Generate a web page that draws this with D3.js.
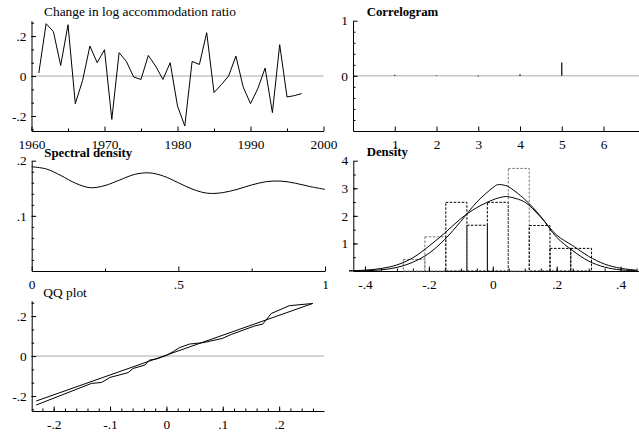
<!DOCTYPE html>
<html><head><meta charset="utf-8">
<script src="https://cdn.jsdelivr.net/npm/d3@7"></script>
<style>
body{margin:0;background:#fff}
svg text{font-family:'Liberation Serif','Times New Roman',Times,'DejaVu Serif','Noto Serif',serif;fill:#000}
</style>
</head><body>
<svg id="c" width="639" height="432" font-family="'Liberation Serif','Times New Roman',Times,'DejaVu Serif',serif"></svg>
<script>
// ---- Data ----
const years = [1961,1962,1963,1964,1965,1966,1967,1968,1969,1970,1971,1972,1973,1974,1975,1976,1977,1978,1979,1980,1981,1982,1983,1984,1985,1986,1987,1988,1989,1990,1991,1992,1993,1994,1995,1996,1997];
const ratioChange = [0.015,0.262,0.223,0.053,0.257,-0.138,-0.022,0.150,0.067,0.132,-0.217,0.117,0.073,-0.005,-0.017,0.103,0.050,-0.017,0.067,-0.150,-0.250,0.073,0.058,0.217,-0.083,-0.043,0.000,0.100,-0.055,-0.138,-0.063,0.040,-0.183,0.157,-0.105,-0.098,-0.088];
const yearTicks = [1960,1970,1980,1990,2000];
const yearTickLabels = ["1960","1970","1980","1990","2000"];
const seriesYTicks = [-0.2,0,0.2];
const seriesYTickLabels = ["-.2","0",".2"];

const corrLags = [1,2,3,4,5,6];
const corrValues = [0.02,0.01,-0.01,0.03,0.24,0.0];
const corrXTicks = [1,2,3,4,5,6];
const corrXTickLabels = ["1","2","3","4","5","6"];
const corrYTicks = [0,1];
const corrYTickLabels = ["0","1"];

const spectFreq = [0,0.05,0.1,0.15,0.2,0.25,0.3,0.35,0.4,0.45,0.5,0.55,0.6,0.65,0.7,0.75,0.8,0.85,0.9,0.95,1];
const spectValues = [0.189,0.185,0.173,0.159,0.151,0.155,0.165,0.175,0.178,0.172,0.160,0.148,0.141,0.142,0.148,0.156,0.162,0.163,0.159,0.153,0.148];
const spectXTicks = [0,0.5,1];
const spectXTickLabels = ["0",".5","1"];
const spectYTicks = [0.1,0.2];
const spectYTickLabels = [".1",".2"];

const histLeft  = [-0.280,-0.2125,-0.147,-0.081,-0.017,0.0485,0.114,0.179,0.244];
const histRight = [-0.2125,-0.147,-0.081,-0.017,0.0485,0.114,0.179,0.244,0.309];
const histHeights = [0.42,1.24,2.49,1.66,2.49,3.72,1.65,0.82,0.82];
const densX = [-0.45,-0.4,-0.35,-0.3,-0.25,-0.2,-0.15,-0.1,-0.05,0,0.015,0.04,0.05,0.1,0.15,0.2,0.25,0.3,0.35,0.4,0.45];
const densKernel = [0.0,0.01,0.04,0.13,0.32,0.64,1.15,1.80,2.50,3.02,3.13,3.10,3.05,2.60,1.98,1.22,0.74,0.36,0.14,0.04,0.01];
const densNormal = [0.01,0.03,0.09,0.22,0.48,0.90,1.38,1.90,2.30,2.58,2.64,2.70,2.69,2.50,1.95,1.30,0.92,0.53,0.25,0.10,0.03];
const densXTicks = [-0.4,-0.2,0,0.2,0.4];
const densXTickLabels = ["-.4","-.2","0",".2",".4"];
const densYTicks = [1,2,3,4];
const densYTickLabels = ["1","2","3","4"];

const qqX = [-0.231,-0.133,-0.115,-0.100,-0.068,-0.059,-0.038,-0.030,-0.018,0.000,0.012,0.023,0.041,0.065,0.099,0.115,0.156,0.171,0.186,0.218,0.2595];
const qqY = [-0.245,-0.137,-0.132,-0.107,-0.083,-0.062,-0.045,-0.020,-0.015,0.003,0.022,0.042,0.060,0.067,0.088,0.108,0.150,0.160,0.213,0.252,0.263];
const qqLineX = [-0.231,0.2595];
const qqLineY = [-0.225,0.263];
const qqXTicks = [-0.2,-0.1,0,0.1,0.2];
const qqXTickLabels = ["-.2","-.1","0",".1",".2"];

// ---- Drawing ----
const svg = d3.select("#c");
const FONT = "'Liberation Serif','Times New Roman',Times,'DejaVu Serif',serif";
const FS = "13.4px";
const TFS = "12.8px";

function axes(x, y, o) {
  const g = svg.append("g");
  const y0 = y.range()[0];
  const x0 = x.range()[0];
  if (o.yMinor) {
    g.append("g").attr("transform", `translate(${x0},0)`)
      .call(d3.axisLeft(y).tickValues(o.yMinor).tickSize(-2.5).tickSizeOuter(0).tickFormat(""))
      .call(s => s.select(".domain").remove());
  }
  if (o.xMinor) {
    g.append("g").attr("transform", `translate(0,${y0})`)
      .call(d3.axisBottom(x).tickValues(o.xMinor).tickSize(-2.5).tickSizeOuter(0).tickFormat(""))
      .call(s => s.select(".domain").remove());
  }
  g.append("g").attr("transform", `translate(${x0},0)`)
    .call(d3.axisLeft(y).tickValues(o.yTicks).tickSize(-4.5).tickSizeOuter(0).tickPadding(5)
      .tickFormat((d, i) => o.yLabels[i]));
  g.append("g").attr("transform", `translate(0,${y0})`)
    .call(d3.axisBottom(x).tickValues(o.xTicks).tickSize(-4.5).tickSizeOuter(0).tickPadding(8)
      .tickFormat((d, i) => o.xLabels[i]));
  g.selectAll("g").attr("font-family", FONT).attr("font-size", FS);
  g.selectAll("text").style("font-family", FONT).style("font-size", FS).attr("fill", "#000");
  g.selectAll(".domain, .tick line").attr("stroke", "#000").attr("stroke-width", 1);
  return g;
}
function title(txt, x, y, bold) {
  svg.append("text").attr("x", x).attr("y", y).text(txt)
    .style("font-family", FONT)
    .style("font-size", bold ? TFS : FS).style("font-weight", bold ? "bold" : "normal");
}
function zeroLine(x, y) {
  svg.append("line").attr("x1", x.range()[0]).attr("x2", x.range()[1])
    .attr("y1", y(0)).attr("y2", y(0)).attr("stroke", "#a8a8a8").attr("stroke-width", 1);
}
function minorRange(a, b, step) {
  const out = []; for (let v = a; v <= b + 1e-9; v += step) out.push(+v.toFixed(6)); return out;
}

// Panel 1: time series
{
  const x = d3.scaleLinear().domain([1960, 2000]).range([31.5, 323.5]);
  const y = d3.scaleLinear().domain([-0.275, 0.277]).range([131, 20.7]);
  zeroLine(x, y);
  axes(x, y, {xTicks: yearTicks, xLabels: yearTickLabels, yTicks: seriesYTicks, yLabels: seriesYTickLabels,
    xMinor: minorRange(1965, 1995, 10), yMinor: minorRange(-0.2667, 0.27, 0.2/3)});
  svg.append("path").datum(years.map((d, i) => [d, ratioChange[i]]))
    .attr("fill", "none").attr("stroke", "#000").attr("stroke-width", 1)
    .attr("d", d3.line().x(d => x(d[0])).y(d => y(d[1])));
  title("Change in log accommodation ratio", 44, 15.5, false);
}
// Panel 2: correlogram
{
  const x = d3.scaleLinear().domain([0, 6.85]).range([353, 639]);
  const y = d3.scaleLinear().domain([-1, 1]).range([131, 20.7]);
  zeroLine(x, y);
  axes(x, y, {xTicks: corrXTicks, xLabels: corrXTickLabels, yTicks: corrYTicks, yLabels: corrYTickLabels,
    yMinor: minorRange(-0.8, 0.8, 0.2)});
  svg.append("g").selectAll("line").data(corrLags).join("line")
    .attr("x1", d => x(d)).attr("x2", d => x(d))
    .attr("y1", y(0)).attr("y2", (d, i) => y(corrValues[i]))
    .attr("stroke", "#000").attr("stroke-width", 1.2);
  title("Correlogram", 366.7, 15.5, true);
}
// Panel 3: spectral density
{
  const x = d3.scaleLinear().domain([0, 1]).range([31.7, 325]);
  const y = d3.scaleLinear().domain([0, 0.2]).range([271, 160.7]);
  axes(x, y, {xTicks: spectXTicks, xLabels: spectXTickLabels, yTicks: spectYTicks, yLabels: spectYTickLabels,
    xMinor: [0.25, 0.75], yMinor: minorRange(0.02, 0.18, 0.02)});
  svg.append("path").datum(spectFreq.map((d, i) => [d, spectValues[i]]))
    .attr("fill", "none").attr("stroke", "#000").attr("stroke-width", 1)
    .attr("d", d3.line().curve(d3.curveCatmullRom).x(d => x(d[0])).y(d => y(d[1])));
  title("Spectral density", 44.3, 156.5, true);
}
// Panel 4: density
{
  const x = d3.scaleLinear().domain([-0.4365, 0.4575]).range([353.3, 639]);
  const y = d3.scaleLinear().domain([0, 4]).range([271, 160.7]);
  axes(x, y, {xTicks: densXTicks, xLabels: densXTickLabels, yTicks: densYTicks, yLabels: densYTickLabels,
    xMinor: minorRange(-0.35, 0.45, 0.05), yMinor: minorRange(0.5, 3.5, 0.5)});
  const grey = [true, true, false, false, false, true, false, false, false];
  svg.append("g").selectAll("rect").data(histHeights).join("rect")
    .attr("x", (d, i) => x(histLeft[i])).attr("width", (d, i) => x(histRight[i]) - x(histLeft[i]))
    .attr("y", d => y(d)).attr("height", d => y(0) - y(d))
    .attr("fill", "none").attr("stroke", (d, i) => grey[i] ? "#777" : "#000")
    .attr("stroke-width", 1).attr("stroke-dasharray", "2.5,1.5");
  const line = d3.line().curve(d3.curveCatmullRom).x(d => x(d[0])).y(d => y(d[1]));
  svg.append("path").datum(densX.map((d, i) => [d, densKernel[i]]))
    .attr("fill", "none").attr("stroke", "#000").attr("stroke-width", 1).attr("d", line);
  svg.append("path").datum(densX.map((d, i) => [d, densNormal[i]]))
    .attr("fill", "none").attr("stroke", "#000").attr("stroke-width", 1).attr("d", line);
  title("Density", 366.7, 155.5, true);
}
// Panel 5: QQ plot
{
  const x = d3.scaleLinear().domain([-0.239, 0.2796]).range([31.7, 324]);
  const y = d3.scaleLinear().domain([-0.275, 0.277]).range([411, 300.7]);
  zeroLine(x, y);
  axes(x, y, {xTicks: qqXTicks, xLabels: qqXTickLabels, yTicks: seriesYTicks, yLabels: seriesYTickLabels,
    xMinor: minorRange(-0.22, 0.26, 0.02), yMinor: minorRange(-0.2667, 0.27, 0.2/3)});
  svg.append("path").datum(qqLineX.map((d, i) => [d, qqLineY[i]]))
    .attr("fill", "none").attr("stroke", "#000").attr("stroke-width", 1)
    .attr("d", d3.line().x(d => x(d[0])).y(d => y(d[1])));
  svg.append("path").datum(qqX.map((d, i) => [d, qqY[i]]))
    .attr("fill", "none").attr("stroke", "#000").attr("stroke-width", 1)
    .attr("d", d3.line().x(d => x(d[0])).y(d => y(d[1])));
  title("QQ plot", 43.3, 297, false);
}
</script>
</body></html>
